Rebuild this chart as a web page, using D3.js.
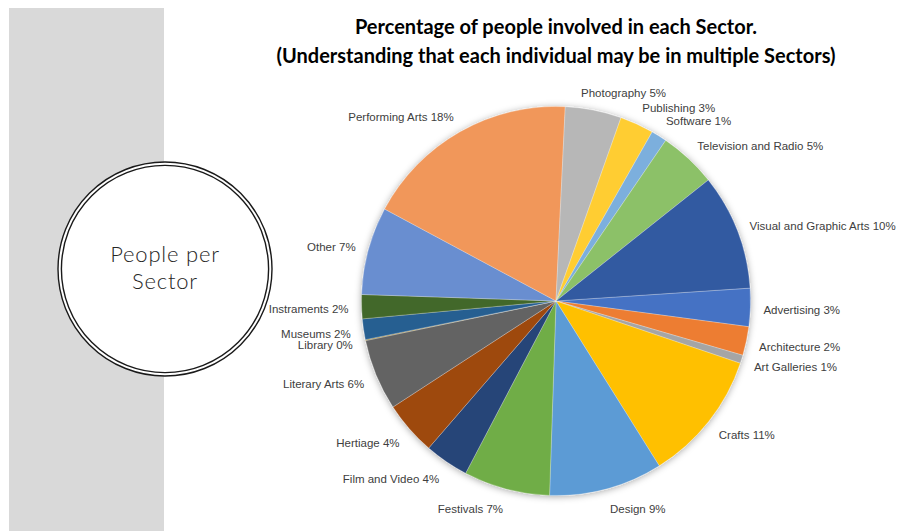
<!DOCTYPE html>
<html>
<head>
<meta charset="utf-8">
<script src="https://cdn.jsdelivr.net/npm/d3@7"></script>
<style>
  body { margin: 0; background: #fff; }
  svg { display: block; }
</style>
</head>
<body>
<svg id="chart" width="900" height="531"></svg>
<script>
// Sector shares (percent of people), in series order
const sectors = ["Advertising", "Architecture", "Art Galleries", "Crafts", "Design", "Festivals",
  "Film and Video", "Hertiage", "Literary Arts", "Library", "Museums", "Instraments", "Other",
  "Performing Arts", "Photography", "Publishing", "Software", "Television and Radio",
  "Visual and Graphic Arts"];
const shares = [3.17, 2.39, 0.69, 10.92, 9.44, 7.17, 3.67, 4.47, 5.92, 0.08, 1.72, 2.0, 7.31,
  17.94, 4.67, 2.81, 1.31, 4.78, 9.64];
const sliceColors = ["#4472C4", "#ED7D31", "#A5A5A5", "#FFC000", "#5B9BD5", "#70AD47",
  "#264478", "#9E480E", "#636363", "#997300", "#255E91", "#43682B", "#698ED0",
  "#F1975A", "#B7B7B7", "#FFCD33", "#7CAFDD", "#8CC168", "#335AA1"];
const titleLines = ["Percentage of people involved in each Sector.",
  "(Understanding that each individual may be in multiple Sectors)"];
const sideLabel = ["People per", "Sector"];

const rows = sectors.map((s, i) => ({ sector: s, value: shares[i], color: sliceColors[i] }));
const total = d3.sum(shares);
const pct = d3.format(".0%");

const svg = d3.select("#chart");
const W = 900, H = 531;

// Side panel with the circular caption
svg.append("rect").attr("x", 9).attr("y", 8).attr("width", 155).attr("height", H - 8)
  .attr("fill", "#d9d9d9");

const badge = svg.append("g").attr("transform", "translate(165,269)");
badge.append("circle").attr("r", 107).attr("fill", "#fff").attr("stroke", "#1a1a1a").attr("stroke-width", 1.4);
badge.append("circle").attr("r", 103.6).attr("fill", "none").attr("stroke", "#1a1a1a").attr("stroke-width", 1.4);
badge.selectAll("text.cap").data(sideLabel).join("text")
  .attr("class", "cap")
  .attr("x", 0)
  .attr("y", (d, i) => -7 + i * 27)
  .attr("text-anchor", "middle")
  .attr("font-family", "Lato, 'Open Sans', sans-serif")
  .attr("font-weight", 300)
  .attr("font-size", 22)
  .attr("letter-spacing", 0.8)
  .attr("fill", "#262626")
  .text(d => d);

// Pie
const cx = 556, cy = 301, R = 194.5;
const start = 86.2 * Math.PI / 180;

const defs = svg.append("defs");
const sh = defs.append("filter").attr("id", "pieShadow")
  .attr("x", "-20%").attr("y", "-20%").attr("width", "140%").attr("height", "140%");
sh.append("feDropShadow").attr("dx", 0).attr("dy", 1).attr("stdDeviation", 3.5)
  .attr("flood-color", "#000").attr("flood-opacity", 0.35);

const pie = d3.pie().sort(null).value(d => d.value)
  .startAngle(start).endAngle(start + 2 * Math.PI);
const arcs = pie(rows);
const arc = d3.arc().innerRadius(0).outerRadius(R);

const g = svg.append("g").attr("transform", `translate(${cx},${cy})`);
g.append("g").attr("filter", "url(#pieShadow)")
  .selectAll("path").data(arcs).join("path")
  .attr("d", arc)
  .attr("fill", d => d.data.color)
  .attr("stroke", "#fff")
  .attr("stroke-opacity", 0.5)
  .attr("stroke-width", 0.5);

// Outside-end data labels
const labelGap = 13;
const labelNudge = { "Photography": -15 };
g.selectAll("text.lbl").data(arcs).join("text")
  .attr("class", "lbl")
  .each(function (d) {
    const mid = (d.startAngle + d.endAngle) / 2;
    const s = Math.sin(mid), c = Math.cos(mid);
    const x = (R + labelGap) * s + (labelNudge[d.data.sector] || 0);
    const y = -(R + labelGap) * c - 6 * c + 1.5;
    d3.select(this)
      .attr("x", x).attr("y", y).attr("dy", "0.35em")
      .attr("text-anchor", s >= 0 ? "start" : "end");
  })
  .attr("font-family", "'Liberation Sans', Arial, sans-serif")
  .attr("font-size", 11.5)
  .attr("fill", "#404040")
  .text(d => `${d.data.sector} ${pct(d.data.value / total)}`);

// Title
svg.selectAll("text.title").data(titleLines).join("text")
  .attr("class", "title")
  .attr("x", 556)
  .attr("y", (d, i) => 34 + i * 29)
  .attr("text-anchor", "middle")
  .attr("font-family", "Lato, 'Open Sans', sans-serif")
  .attr("font-weight", 700)
  .attr("font-size", 20)
  .attr("fill", "#000")
  .text(d => d);
</script>
</body>
</html>
